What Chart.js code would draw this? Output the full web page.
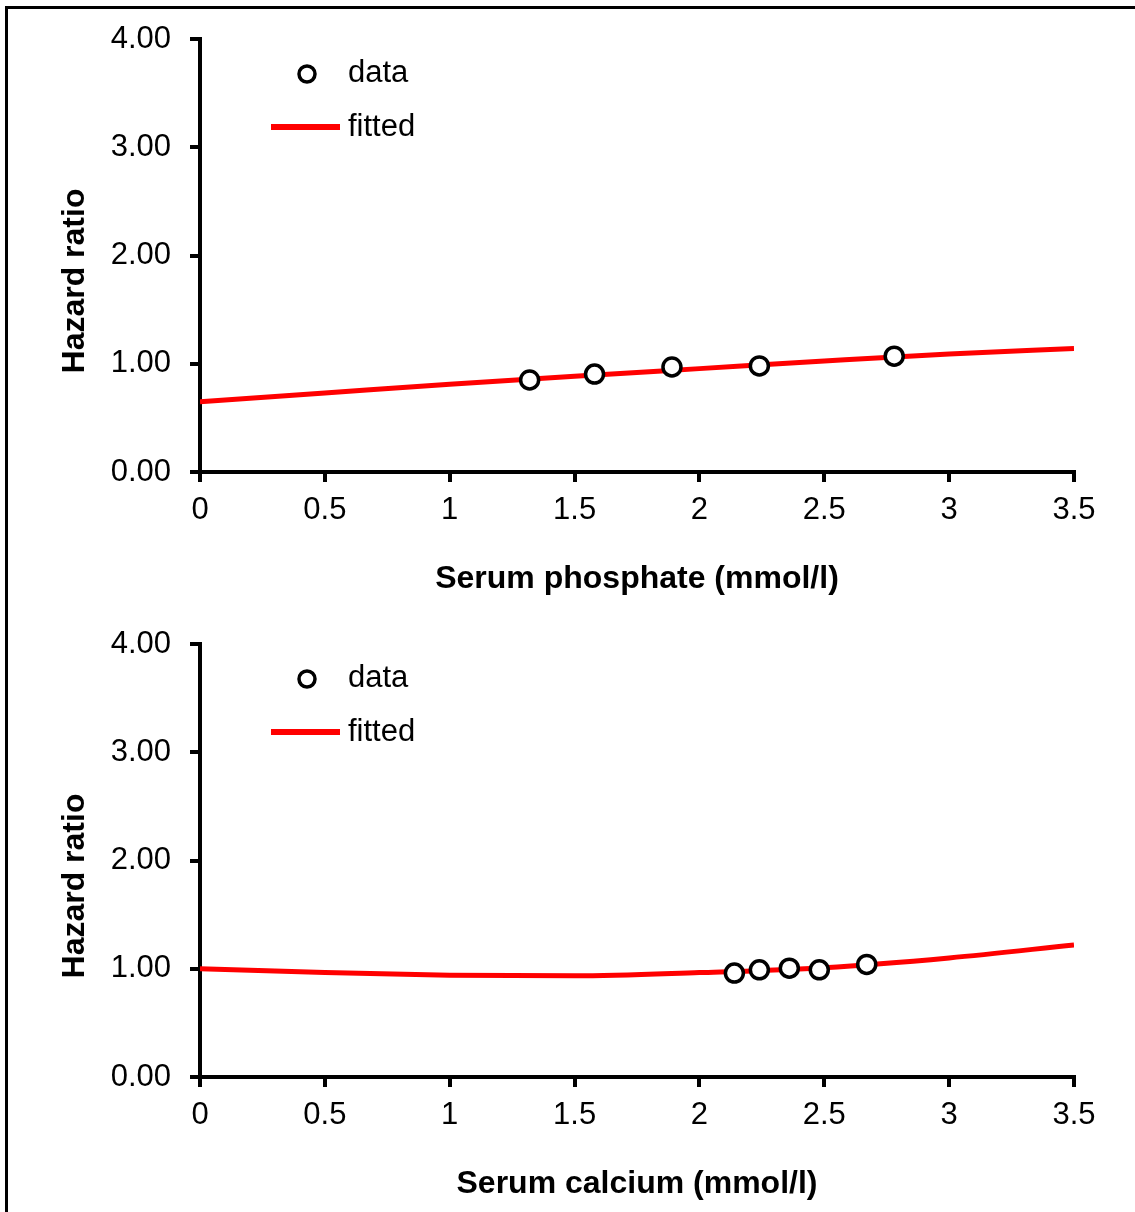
<!DOCTYPE html>
<html>
<head>
<meta charset="utf-8">
<script src="https://cdn.jsdelivr.net/npm/chart.js@4.4.0/dist/chart.umd.min.js"></script>
<style>
  html, body { margin: 0; padding: 0; background: #fff; }
  #page { position: relative; width: 1135px; height: 1212px; overflow: hidden; }
  #frame { position: absolute; left: 5px; top: 6px; width: 1300px; height: 1400px;
           border-left: 3px solid #000; border-top: 3px solid #000; }
  .holder { position: absolute; left: 0; width: 1135px; height: 605px; }
</style>
</head>
<body>
<div id="page">
  <div id="frame"></div>
  <div class="holder" style="top:0"><canvas id="phosChart" width="1135" height="605"></canvas></div>
  <div class="holder" style="top:605px"><canvas id="calcChart" width="1135" height="605"></canvas></div>
</div>
<script>
const xTicks = [0, 0.5, 1, 1.5, 2, 2.5, 3, 3.5];
const yTicks = [0, 1, 2, 3, 4];

// serum phosphate panel
const phosDataX = [1.32, 1.58, 1.89, 2.24, 2.78];
const phosDataY = [0.85, 0.905, 0.97, 0.98, 1.07];
const phosFitX = [0, 0.5, 1, 1.5, 2, 2.5, 3, 3.5];
const phosFitY = [0.65, 0.73, 0.81, 0.885, 0.955, 1.025, 1.09, 1.14];

// serum calcium panel
const calcDataX = [2.14, 2.24, 2.36, 2.48, 2.67];
const calcDataY = [0.96, 0.99, 1.005, 0.99, 1.04];
const calcFitX = [0, 0.5, 1, 1.5, 2, 2.5, 3, 3.5];
const calcFitY = [1.0, 0.965, 0.94, 0.935, 0.965, 1.01, 1.1, 1.22];

const fontFamily = '"Liberation Sans", Arial, Helvetica, sans-serif';
const red = "#FF0000";
const black = "#000000";

function pairs(xs, ys) {
  return xs.map((x, i) => ({x: x, y: ys[i]}));
}

// legend drawn inside the plot, Excel style
const insideLegend = {
  id: "insideLegend",
  afterDraw(chart) {
    const ctx = chart.ctx;
    const a = chart.chartArea;
    const mx = a.left + 107, tx = a.left + 148;
    const y1 = a.top + 34, y2 = a.top + 88;
    ctx.save();
    ctx.font = "31px " + fontFamily;
    ctx.textBaseline = "middle";
    ctx.textAlign = "left";
    ctx.beginPath();
    ctx.arc(mx, y1 + 1, 8, 0, 2 * Math.PI);
    ctx.fillStyle = "#fff";
    ctx.fill();
    ctx.lineWidth = 3.5;
    ctx.strokeStyle = black;
    ctx.stroke();
    ctx.beginPath();
    ctx.moveTo(mx - 36, y2);
    ctx.lineTo(mx + 33, y2);
    ctx.lineWidth = 6;
    ctx.strokeStyle = red;
    ctx.stroke();
    ctx.fillStyle = black;
    ctx.fillText(chart.data.datasets[0].label, tx, y1);
    ctx.fillText(chart.data.datasets[1].label, tx, y2);
    ctx.restore();
  }
};

// rotated y title, placed where the original has it
const yTitle = {
  id: "yTitle",
  afterDraw(chart, args, opts) {
    const ctx = chart.ctx;
    ctx.save();
    ctx.translate(75, 281);
    ctx.rotate(-Math.PI / 2);
    ctx.font = "bold 32px " + fontFamily;
    ctx.textAlign = "center";
    ctx.textBaseline = "middle";
    ctx.fillStyle = black;
    ctx.fillText(opts.text, 0, 0);
    ctx.restore();
  }
};

function makeChart(id, dataX, dataY, fitX, fitY, xLabel) {
  const axisGrid = {
    display: true,
    drawOnChartArea: false,
    drawTicks: true,
    tickLength: 10,
    lineWidth: 4,
    tickWidth: 4,
    tickColor: black
  };
  const axisBorder = { display: true, color: black, width: 4 };

  return new Chart(document.getElementById(id), {
    type: "scatter",
    data: {
      datasets: [{
        label: "data",
        data: pairs(dataX, dataY),
        pointRadius: 9,
        pointHoverRadius: 9,
        pointBorderWidth: 3.5,
        pointBackgroundColor: "#fff",
        pointBorderColor: black,
        showLine: false
      }, {
        label: "fitted",
        data: pairs(fitX, fitY),
        showLine: true,
        borderColor: red,
        borderWidth: 5,
        pointRadius: 0,
        cubicInterpolationMode: "monotone"
      }]
    },
    options: {
      responsive: false,
      animation: false,
      layout: { padding: { left: 0, top: 39, right: 61, bottom: 0 } },
      plugins: {
        legend: { display: false },
        tooltip: { enabled: false },
        yTitle: { text: "Hazard ratio" }
      },
      scales: {
        x: {
          type: "linear",
          min: 0,
          max: 3.5,
          afterBuildTicks: s => { s.ticks = xTicks.map(v => ({value: v})); },
          afterFit: s => { s.height = 133; },
          ticks: {
            color: black,
            padding: 13,
            font: { family: fontFamily, size: 31, lineHeight: 1 },
            callback: v => String(v)
          },
          grid: axisGrid,
          border: axisBorder,
          title: {
            display: true,
            text: xLabel,
            color: black,
            padding: { top: 0, bottom: 10 },
            font: { family: fontFamily, size: 32, weight: "bold", lineHeight: 1 }
          }
        },
        y: {
          min: 0,
          max: 4,
          afterBuildTicks: s => { s.ticks = yTicks.map(v => ({value: v})); },
          afterFit: s => { s.width = 200; },
          ticks: {
            color: black,
            padding: 19,
            font: { family: fontFamily, size: 31, lineHeight: 1 },
            callback: v => Number(v).toFixed(2)
          },
          grid: axisGrid,
          border: axisBorder
        }
      }
    },
    plugins: [insideLegend, yTitle]
  });
}

makeChart("phosChart", phosDataX, phosDataY, phosFitX, phosFitY, "Serum phosphate (mmol/l)");
makeChart("calcChart", calcDataX, calcDataY, calcFitX, calcFitY, "Serum calcium (mmol/l)");
</script>
</body>
</html>
